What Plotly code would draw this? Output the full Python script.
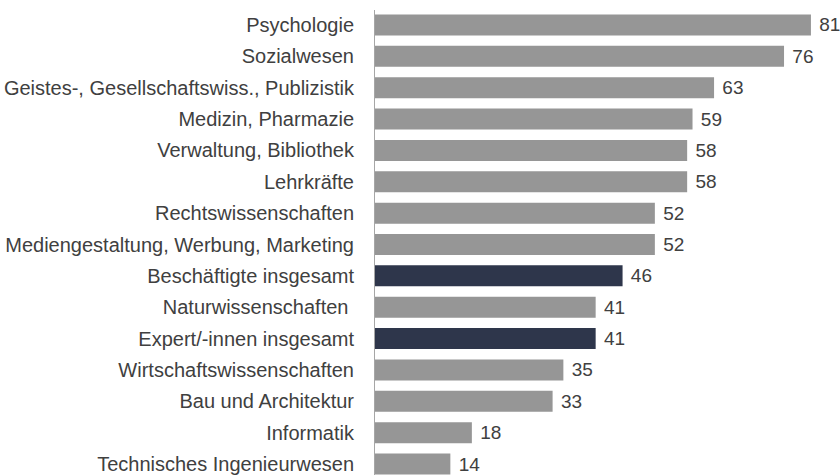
import plotly.graph_objects as go

categories = [
    "Psychologie",
    "Sozialwesen",
    "Geistes-, Gesellschaftswiss., Publizistik",
    "Medizin, Pharmazie",
    "Verwaltung, Bibliothek",
    "Lehrkräfte",
    "Rechtswissenschaften",
    "Mediengestaltung, Werbung, Marketing",
    "Beschäftigte insgesamt",
    "Naturwissenschaften ",
    "Expert/-innen insgesamt",
    "Wirtschaftswissenschaften",
    "Bau und Architektur",
    "Informatik",
    "Technisches Ingenieurwesen",
]
values = [81, 76, 63, 59, 58, 58, 52, 52, 46, 41, 41, 35, 33, 18, 14]
highlight = [False, False, False, False, False, False, False, False, True, False, True, False, False, False, False]

GREY = "#969696"
NAVY = "#2e364b"
colors = [NAVY if h else GREY for h in highlight]
positions = list(range(len(categories)))

FONT = "Liberation Sans, Arial, sans-serif"

fig = go.Figure(
    go.Bar(
        x=values,
        y=positions,
        orientation="h",
        marker=dict(color=colors, line=dict(width=0)),
        width=0.67,
        text=[f" {v}" for v in values],
        textposition="outside",
        textfont=dict(family=FONT, size=19, color="#404040"),
        cliponaxis=False,
        hoverinfo="skip",
    )
)

fig.update_layout(
    width=840,
    height=475,
    margin=dict(l=375, r=0, t=10, b=0),
    paper_bgcolor="white",
    plot_bgcolor="white",
    showlegend=False,
    font=dict(family=FONT, size=20, color="#404040"),
    xaxis=dict(range=[0, 86.4], visible=False, showgrid=False, zeroline=False),
    yaxis=dict(
        range=[14.35, -0.478],
        tickmode="array",
        tickvals=positions,
        ticktext=categories,
        showgrid=False,
        zeroline=False,
        showline=True,
        linecolor="#a6a6a6",
        linewidth=1,
        ticks="",
        ticklabelstandoff=16,
        ticklabeloverflow="allow",
        tickfont=dict(family=FONT, size=20, color="#404040"),
    ),
)

fig.write_html("out.html")
